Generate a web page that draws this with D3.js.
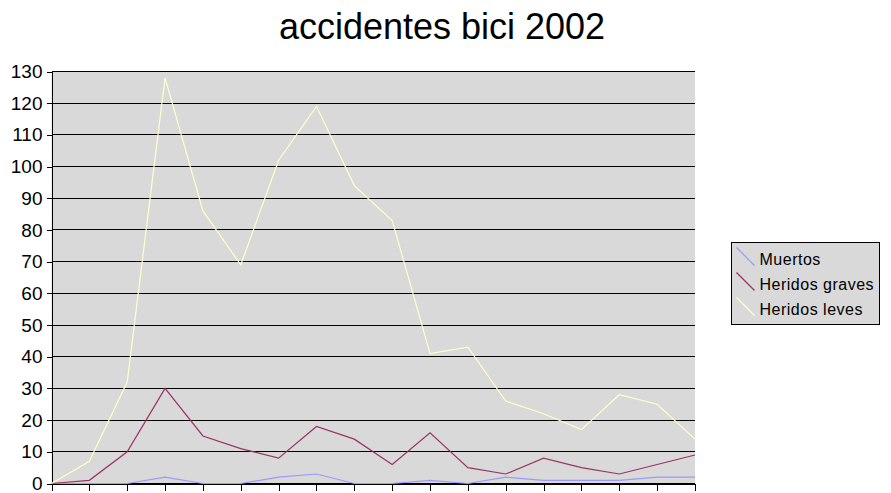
<!DOCTYPE html>
<html>
<head>
<meta charset="utf-8">
<script src="https://cdn.jsdelivr.net/npm/d3@7"></script>
<style>
  body { margin: 0; background: #fff; }
  text { font-family: "Liberation Sans", Arial, sans-serif; fill: #000; }
</style>
</head>
<body>
<svg id="chart" width="891" height="493"></svg>
<script>
const categories = d3.range(1, 19);
const muertos = [0, 0, 0, 2, 0, 0, 2, 3, 0, 0, 1, 0, 2, 1, 1, 1, 2, 2];
const heridosGraves = [0, 1, 10, 30, 15, 11, 8, 18, 14, 6, 16, 5, 3, 8, 5, 3, 6, 9];
const heridosLeves = [0, 7, 32, 128, 86, 69, 102, 119, 94, 83, 41, 43, 26, 22, 17, 28, 25, 14];
const yTicks = d3.range(0, 131, 10);

const seriesList = [
  { name: "Muertos", values: muertos, color: "#9999ff" },
  { name: "Heridos graves", values: heridosGraves, color: "#993366" },
  { name: "Heridos leves", values: heridosLeves, color: "#ffffcc" }
];

const plot = { left: 51.5, right: 695, top: 71.5, bottom: 483.5 };

const svg = d3.select("#chart");

svg
  .append("text")
  .text("accidentes bici 2002")
  .attr("x", 442)
  .attr("y", 39)
  .attr("text-anchor", "middle")
  .style("font-size", "36px");

svg
  .append("rect")
  .attr("x", plot.left)
  .attr("y", plot.top)
  .attr("width", plot.right - plot.left)
  .attr("height", plot.bottom - plot.top)
  .attr("fill", "#d9d9d9");

const xScale = d3
  .scalePoint()
  .domain(categories)
  .range([plot.left, plot.right]);

const yScale = d3
  .scaleLinear()
  .domain([0, 130])
  .range([plot.bottom, plot.top]);

// horizontal gridlines
svg
  .append("g")
  .selectAll("line")
  .data(yTicks)
  .enter()
  .append("line")
  .attr("x1", plot.left)
  .attr("x2", plot.right)
  .attr("y1", (d) => yScale(d))
  .attr("y2", (d) => yScale(d))
  .attr("stroke", "#000")
  .attr("stroke-width", 1)
  .attr("shape-rendering", "crispEdges");

const yAxis = svg
  .append("g")
  .attr("transform", `translate(${plot.left},0)`)
  .call(d3.axisLeft(yScale).tickValues(yTicks).tickSize(5).tickPadding(4));
yAxis.select(".domain").attr("stroke", "#000").attr("shape-rendering", "crispEdges");
yAxis.selectAll(".tick line").attr("shape-rendering", "crispEdges");
yAxis
  .selectAll("text")
  .style("font-size", "19px")
  .style("font-family", '"Liberation Sans", Arial, sans-serif');

const line = d3
  .line()
  .x((d, i) => xScale(categories[i]))
  .y((d) => yScale(d));

svg
  .append("g")
  .selectAll("path")
  .data(seriesList)
  .enter()
  .append("path")
  .attr("d", (s) => line(s.values))
  .attr("fill", "none")
  .attr("stroke", (s) => s.color)
  .attr("stroke-width", 1.2);

const xAxis = svg
  .append("g")
  .attr("transform", `translate(0,${plot.bottom})`)
  .call(d3.axisBottom(xScale).tickSize(7).tickFormat(""));
xAxis.select(".domain").attr("stroke", "#000").attr("shape-rendering", "crispEdges");
xAxis.selectAll(".tick line").attr("shape-rendering", "crispEdges");

// legend
const legend = svg.append("g").attr("transform", "translate(731.5,242.5)");
legend
  .append("rect")
  .attr("width", 148)
  .attr("height", 82)
  .attr("fill", "#d9d9d9")
  .attr("stroke", "#000")
  .attr("stroke-width", 1);

const legendItem = legend
  .selectAll(".item")
  .data(seriesList)
  .enter()
  .append("g")
  .attr("transform", (d, i) => `translate(0,${i * 25})`);

legendItem
  .append("line")
  .attr("x1", 5)
  .attr("y1", 5)
  .attr("x2", 23)
  .attr("y2", 23)
  .attr("stroke", (d) => d.color)
  .attr("stroke-width", 1.2);

legendItem
  .append("text")
  .text((d) => d.name)
  .attr("x", 28)
  .attr("y", 22)
  .style("font-size", "16px")
  .style("letter-spacing", "0.5px");
</script>
</body>
</html>
